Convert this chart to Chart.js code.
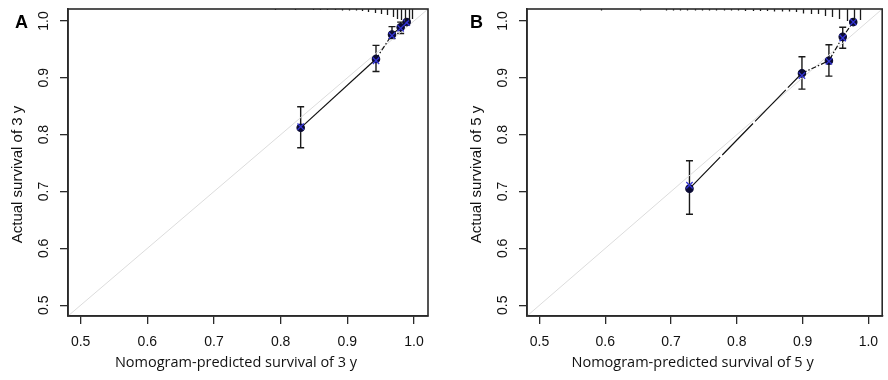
<!DOCTYPE html>
<html>
<head>
<meta charset="utf-8">
<script src="https://cdn.jsdelivr.net/npm/chart.js@4.4.0/dist/chart.umd.min.js"></script>
<style>
  body { margin: 0; background: #fff; }
  #wrap { position: relative; width: 888px; height: 380px; overflow: hidden; background: #fff; }
  canvas { position: absolute; top: 0; }
  #cA { left: 0; }
  #cB { left: 459px; }
  .tag { position: absolute; top: 12px; font: bold 18px "Liberation Sans", Arial, sans-serif; color: #000; }
</style>
</head>
<body>
<div id="wrap">
  <canvas id="cA" width="444" height="380"></canvas>
  <canvas id="cB" width="429" height="380"></canvas>
  <div class="tag" style="left:15px">A</div>
  <div class="tag" style="left:470px">B</div>
</div>
<script>
// axis range and ticks (both panels)
const axisMin = 0.481;
const axisMax = 1.021;
const tickValues = [0.5, 0.6, 0.7, 0.8, 0.9, 1.0];

// panel A - 3 year
const predA = [0.830, 0.943, 0.967, 0.980, 0.989];
const obsA = [0.812, 0.933, 0.976, 0.989, 0.998];
const lowA = [0.777, 0.911, 0.969, 0.978, 0.995];
const highA = [0.849, 0.957, 0.990, 0.998, 1.000];
const corrA = [0.814, 0.930, 0.974, 0.987, 0.997];
const rugXA = [0.791, 0.822, 0.848, 0.859, 0.870, 0.881, 0.892, 0.903, 0.913, 0.922, 0.931, 0.941, 0.951, 0.960, 0.968, 0.975, 0.981, 0.987, 0.992, 0.997];
const rugNA = [1, 1, 1, 1, 1, 1, 1.5, 1.5, 1.5, 2, 3, 4, 5, 6, 8, 10, 11, 13, 12, 10];

// panel B - 5 year
const predB = [0.728, 0.899, 0.940, 0.961, 0.977];
const obsB = [0.705, 0.908, 0.930, 0.972, 0.998];
const lowB = [0.660, 0.880, 0.903, 0.952, 0.995];
const highB = [0.754, 0.937, 0.958, 0.989, 1.000];
const corrB = [0.711, 0.904, 0.929, 0.970, 0.998];
const rugXB = [0.594, 0.653, 0.692, 0.703, 0.714, 0.725, 0.736, 0.747, 0.758, 0.769, 0.780, 0.791, 0.802, 0.813, 0.824, 0.835, 0.846, 0.857, 0.868, 0.879, 0.890, 0.901, 0.912, 0.923, 0.934, 0.945, 0.956, 0.967, 0.978, 0.988];
const rugNB = [1.5, 1.5, 1.5, 1.5, 1.5, 1.5, 1.5, 1.5, 1.5, 1.5, 1.5, 1.5, 1.5, 2, 2, 2, 2, 2.5, 2.5, 2.5, 3, 4.5, 5, 5, 7, 8, 10, 12, 11, 11];

const tickFont = { family: "'Liberation Sans', Arial, sans-serif", size: 14 };
const dark = '#2a2a2a';

function xy(xs, ys) {
  return xs.map((x, i) => ({ x: x, y: ys[i] }));
}

// error bars, rug spikes, frame and axis titles
const extras = {
  id: 'extras',
  beforeDatasetsDraw(chart, args, opts) {
    const { ctx, scales: { x, y } } = chart;
    ctx.save();
    ctx.strokeStyle = '#1a1a1a';
    ctx.lineWidth = 1.4;
    opts.pred.forEach((p, i) => {
      const px = x.getPixelForValue(p);
      const y0 = y.getPixelForValue(opts.low[i]);
      const y1 = y.getPixelForValue(opts.high[i]);
      ctx.beginPath();
      ctx.moveTo(px, y0); ctx.lineTo(px, y1);
      ctx.moveTo(px - 3.5, y0); ctx.lineTo(px + 3.5, y0);
      ctx.moveTo(px - 3.5, y1); ctx.lineTo(px + 3.5, y1);
      ctx.stroke();
    });
    ctx.restore();
  },
  afterDraw(chart, args, opts) {
    const { ctx, chartArea: a, scales: { x } } = chart;
    ctx.save();
    // rug of predicted risks
    ctx.strokeStyle = '#1a1a1a';
    ctx.lineWidth = 1.3;
    opts.rugX.forEach((r, i) => {
      const px = Math.round(x.getPixelForValue(r)) + 0.5;
      ctx.beginPath();
      ctx.moveTo(px, a.top);
      ctx.lineTo(px, a.top + opts.rugN[i]);
      ctx.stroke();
    });
    // frame
    ctx.strokeStyle = dark;
    ctx.lineWidth = 1.6;
    ctx.strokeRect(a.left, a.top, a.right - a.left, a.bottom - a.top);
    // axis titles
    ctx.fillStyle = '#111';
    ctx.textAlign = 'center';
    ctx.textBaseline = 'middle';
    ctx.font = "14.5px 'Open Sans', sans-serif";
    ctx.fillText(opts.xTitle, (a.left + a.right) / 2 - 12, 363);
    ctx.translate(18, (a.top + a.bottom) / 2 + 12);
    ctx.rotate(-Math.PI / 2);
    ctx.font = "15px 'Liberation Sans', Arial, sans-serif";
    ctx.fillText(opts.yTitle, 0, 0);
    ctx.restore();
  }
};

function axis(isY) {
  return {
    type: 'linear',
    min: axisMin,
    max: axisMax,
    afterBuildTicks: s => { s.ticks = tickValues.map(v => ({ value: v })); },
    afterFit: s => {
      if (isY) { s.width = 68; s.paddingTop = 0; s.paddingBottom = 0; }
      else { s.height = 64; s.paddingLeft = 0; s.paddingRight = 0; }
    },
    ticks: {
      callback: v => v.toFixed(1),
      font: tickFont,
      color: '#111',
      padding: isY ? 6 : 18,
      minRotation: isY ? 90 : 0,
      maxRotation: isY ? 90 : 0,
      crossAlign: 'center'
    },
    grid: { drawOnChartArea: false, drawTicks: true, tickLength: 8, color: dark, lineWidth: 1.3 },
    border: { display: true, color: dark, width: 1.6 }
  };
}

function makeChart(id, d) {
  return new Chart(document.getElementById(id), {
    type: 'scatter',
    data: {
      datasets: [
        {
          // bias-corrected estimates
          data: xy(d.pred, d.corr),
          pointStyle: 'crossRot',
          pointRadius: 4.5,
          borderColor: '#3434d6',
          borderWidth: 1.3,
          showLine: false,
          order: 1
        },
        {
          // observed
          data: xy(d.pred, d.obs),
          showLine: true,
          borderColor: '#111',
          borderWidth: 1.2,
          pointRadius: 3.7,
          pointBackgroundColor: '#0b0b33',
          pointBorderColor: '#0b0b33',
          segment: { borderDash: c => c.p0DataIndex === 0 ? d.firstDash : [5, 2, 1.5, 2] },
          order: 2
        },
        {
          // ideal line
          data: xy([axisMin, axisMax], [axisMin, axisMax]),
          showLine: true,
          borderColor: '#dcdcdc',
          borderWidth: 1,
          pointRadius: 0,
          order: 3
        }
      ]
    },
    options: {
      responsive: false,
      animation: false,
      devicePixelRatio: 1,
      layout: { padding: { top: 9, right: d.padRight, left: 0, bottom: 0 } },
      scales: { x: axis(false), y: axis(true) },
      plugins: {
        legend: { display: false },
        tooltip: { enabled: false },
        extras: {
          pred: d.pred, low: d.low, high: d.high,
          rugX: d.rugX, rugN: d.rugN,
          xTitle: d.xTitle, yTitle: d.yTitle
        }
      }
    },
    plugins: [extras]
  });
}

makeChart('cA', {
  pred: predA, obs: obsA, low: lowA, high: highA, corr: corrA,
  rugX: rugXA, rugN: rugNA, padRight: 16, firstDash: [],
  xTitle: 'Nomogram-predicted survival of 3 y', yTitle: 'Actual survival of 3 y'
});
makeChart('cB', {
  pred: predB, obs: obsB, low: lowB, high: highB, corr: corrB,
  rugX: rugXB, rugN: rugNB, padRight: 1, firstDash: [44, 3],
  xTitle: 'Nomogram-predicted survival of 5 y', yTitle: 'Actual survival of 5 y'
});
</script>
</body>
</html>
